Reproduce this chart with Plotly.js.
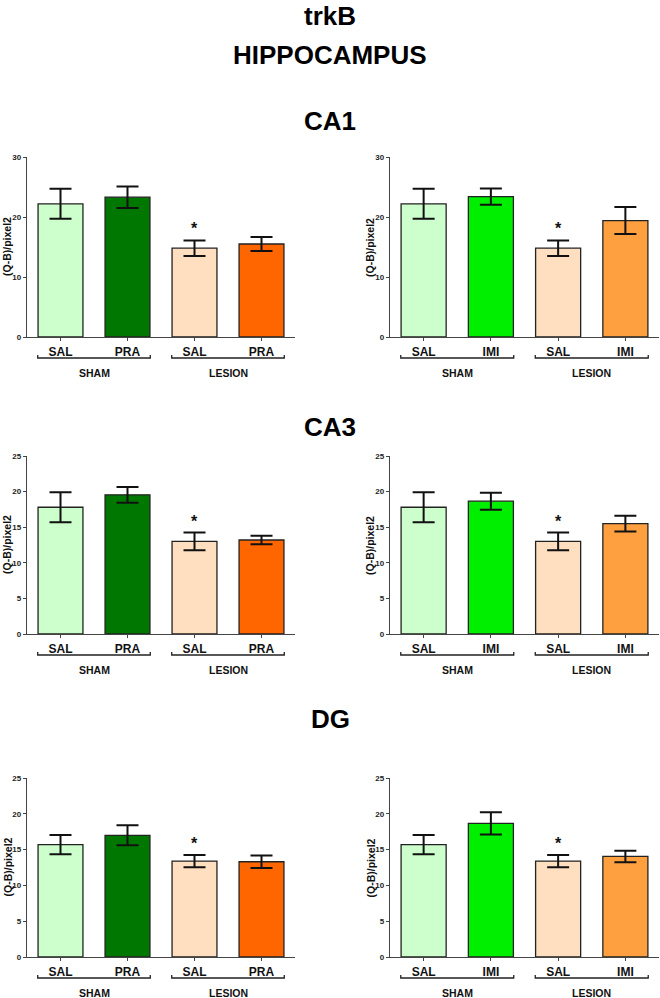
<!DOCTYPE html>
<html>
<head>
<meta charset="utf-8">
<script src="https://cdn.plot.ly/plotly-3.0.1.min.js"></script>
<style>html,body{margin:0;padding:0;background:#fff;}#chart{width:660px;height:998px;}</style>
</head>
<body>
<div id="chart"></div>
<script>
// ---- data ----
const catsPRA = ["SAL", "PRA", "SAL", "PRA"];
const catsIMI = ["SAL", "IMI", "SAL", "IMI"];
const groupLabels = ["SHAM", "LESION"];
const regions = ["CA1", "CA3", "DG"];

const ca1PRA = [22.2, 23.3, 14.8, 15.5];
const ca1PRAerr = [2.5, 1.8, 1.3, 1.15];
const ca1IMI = [22.2, 23.4, 14.8, 19.4];
const ca1IMIerr = [2.5, 1.35, 1.3, 2.25];

const ca3PRA = [17.8, 19.55, 13.0, 13.2];
const ca3PRAerr = [2.1, 1.1, 1.25, 0.6];
const ca3IMI = [17.8, 18.65, 13.0, 15.5];
const ca3IMIerr = [2.1, 1.2, 1.25, 1.1];

const dgPRA = [15.7, 17.0, 13.4, 13.3];
const dgPRAerr = [1.35, 1.4, 0.85, 0.87];
const dgIMI = [15.7, 18.65, 13.4, 14.05];
const dgIMIerr = [1.35, 1.55, 0.85, 0.8];

const sigIndex = 2; // asterisk on lesion SAL
const yMax = [30, 25, 25];
const yDtick = [10, 5, 5];

// ---- styling ----
const colorsPRA = ["#ccffcc", "#007800", "#ffdfbf", "#ff6600"];
const colorsIMI = ["#ccffcc", "#00ee00", "#ffdfbf", "#ffa040"];
const FONT = "Liberation Sans, Arial, sans-serif";
const W = 660, H = 998;
const py = p => 1 - p / H;
const px = p => p / W;

// panel geometry (pixels)
const xDomains = [[27, 295], [390, 659]];
const yPix = [[157, 337], [456, 634], [778, 957]];

const panels = [
  {r: 0, c: 0, cats: catsPRA, vals: ca1PRA, err: ca1PRAerr, colors: colorsPRA},
  {r: 0, c: 1, cats: catsIMI, vals: ca1IMI, err: ca1IMIerr, colors: colorsIMI},
  {r: 1, c: 0, cats: catsPRA, vals: ca3PRA, err: ca3PRAerr, colors: colorsPRA},
  {r: 1, c: 1, cats: catsIMI, vals: ca3IMI, err: ca3IMIerr, colors: colorsIMI},
  {r: 2, c: 0, cats: catsPRA, vals: dgPRA, err: dgPRAerr, colors: colorsPRA},
  {r: 2, c: 1, cats: catsIMI, vals: dgIMI, err: dgIMIerr, colors: colorsIMI}
];

const traces = [];
const layout = {
  width: W, height: H,
  margin: {l: 0, r: 0, t: 0, b: 0},
  paper_bgcolor: "#fff", plot_bgcolor: "#fff",
  showlegend: false,
  font: {family: FONT, color: "#000"},
  annotations: [], shapes: []
};

// titles
const bigTitle = (text, y, anchor) => ({text: "<b>" + text + "</b>", xref: "paper", yref: "paper",
  x: 0.5, y: py(y), xanchor: "center", yanchor: anchor || "middle", showarrow: false,
  borderpad: 0, font: {family: FONT, size: 26, color: "#000"}});
layout.annotations.push(bigTitle("trkB", 0, "top"));
layout.annotations.push(bigTitle("HIPPOCAMPUS", 55));
const regionY = [121, 427, 719];
regions.forEach((r, i) => layout.annotations.push(bigTitle(r, regionY[i])));

panels.forEach((p, i) => {
  const n = i + 1;
  const xa = "xaxis" + (n === 1 ? "" : n), ya = "yaxis" + (n === 1 ? "" : n);
  const xr = "x" + (n === 1 ? "" : n), yr = "y" + (n === 1 ? "" : n);
  const xs = p.cats.map((_, k) => k);
  traces.push({
    type: "bar", x: xs, y: p.vals, xaxis: xr, yaxis: yr, width: 0.67,
    marker: {color: p.colors, line: {color: "#222", width: 1.3}},
    error_y: {type: "data", array: p.err, visible: true, color: "#111", thickness: 2, width: 11},
    hoverinfo: "skip"
  });
  const xd = xDomains[p.c], yd = yPix[p.r];
  layout[xa] = {
    domain: [px(xd[0]), px(xd[1])], range: [-0.5, 3.5], anchor: yr,
    tickvals: xs, ticktext: p.cats.map(t => "<b>" + t + "</b>"),
    tickfont: {family: FONT, size: 12, color: "#111"},
    ticks: "outside", ticklen: 3, tickcolor: "#444", tickwidth: 1,
    showline: true, linecolor: "#444", linewidth: 1.3,
    showgrid: false, zeroline: false, fixedrange: true
  };
  layout[ya] = {
    domain: [py(yd[1]), py(yd[0])], range: [0, yMax[p.r]], anchor: xr,
    dtick: yDtick[p.r], tick0: 0,
    tickfont: {family: FONT, size: 8, color: "#222", weight: "bold"},
    ticks: "outside", ticklen: 3, tickcolor: "#444", tickwidth: 1,
    showline: true, linecolor: "#444", linewidth: 1.3,
    showgrid: false, zeroline: false, fixedrange: true
  };
  // y-axis title
  layout.annotations.push({text: "<b>(Q-B)/pixel2</b>", xref: "paper", yref: "paper",
    x: px(xd[0] - 20), y: py((yd[0] + yd[1]) / 2), textangle: -90,
    xanchor: "center", yanchor: "middle", showarrow: false, borderpad: 0,
    font: {family: FONT, size: 10.5, color: "#111"}});
  // significance asterisk
  layout.annotations.push({text: "<b>*</b>", xref: xr, yref: yr,
    x: sigIndex, y: p.vals[sigIndex] + p.err[sigIndex], yanchor: "bottom", yshift: 1,
    showarrow: false, font: {family: FONT, size: 16, color: "#111"}});
  // group brackets
  const by = yd[1] + 21;
  const gy = yd[1] + 36;
  groupLabels.forEach((g, k) => {
    const x0 = 2 * k - 0.34, x1 = 2 * k + 1 + 0.34;
    layout.shapes.push({type: "path", xref: xr, yref: "paper",
      path: `M ${x0},${py(by - 3)} L ${x0},${py(by)} L ${x1},${py(by)} L ${x1},${py(by - 3)}`,
      line: {color: "#222", width: 1.3}});
    layout.annotations.push({text: "<b>" + g + "</b>", xref: xr, yref: "paper",
      x: 2 * k + 0.5, y: py(gy), xanchor: "center", yanchor: "middle", showarrow: false,
      font: {family: FONT, size: 10.5, color: "#111"}});
  });
});

Plotly.newPlot("chart", traces, layout, {staticPlot: true});
</script>
</body>
</html>
